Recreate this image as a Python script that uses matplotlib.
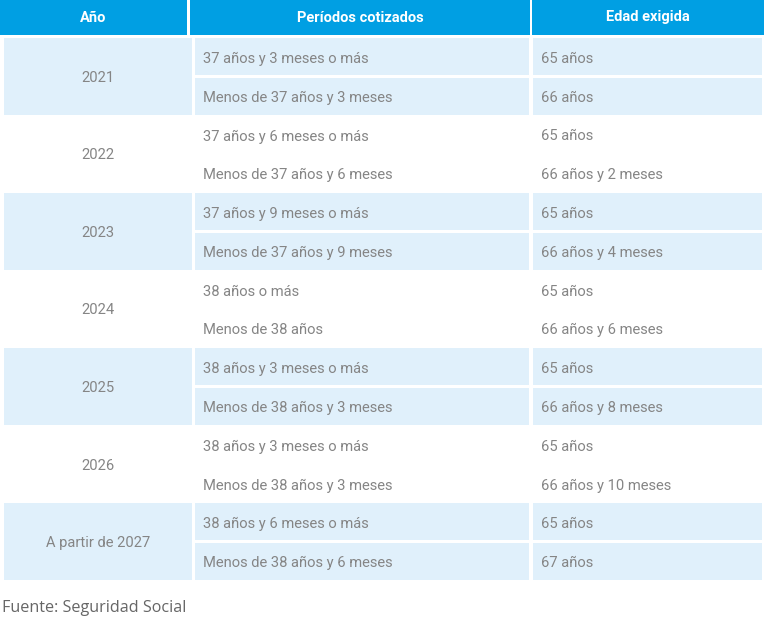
import matplotlib.pyplot as plt
from matplotlib.patches import Rectangle

# === Table data ===
headers = ["Año", "Períodos cotizados", "Edad exigida"]
years = ["2021", "2022", "2023", "2024", "2025", "2026", "A partir de 2027"]
periods = [
    "37 años y 3 meses o más", "Menos de 37 años y 3 meses",
    "37 años y 6 meses o más", "Menos de 37 años y 6 meses",
    "37 años y 9 meses o más", "Menos de 37 años y 9 meses",
    "38 años o más", "Menos de 38 años",
    "38 años y 3 meses o más", "Menos de 38 años y 3 meses",
    "38 años y 3 meses o más", "Menos de 38 años y 3 meses",
    "38 años y 6 meses o más", "Menos de 38 años y 6 meses",
]
ages = [
    "65 años", "66 años",
    "65 años", "66 años y 2 meses",
    "65 años", "66 años y 4 meses",
    "65 años", "66 años y 6 meses",
    "65 años", "66 años y 8 meses",
    "65 años", "66 años y 10 meses",
    "65 años", "67 años",
]
source = "Fuente: Seguridad Social"

# === Layout (pixel coords) ===
W, H = 768, 643
HEADER_COLS = [(0, 187), (190, 530), (532, 764)]
BODY_COLS = [(4, 192), (195, 529), (533, 762)]
TOP, BOTTOM = 38, 581
BLUE = "#009FE3"
SHADE = "#E0F0FB"
TEXT = "#858585"
FONT = ["Roboto", "DejaVu Sans"]

fig = plt.figure(figsize=(W / 100, H / 100), dpi=100)
ax = fig.add_axes([0, 0, 1, 1])
ax.set_xlim(0, W)
ax.set_ylim(H, 0)
ax.axis("off")

# header
for (x0, x1), label in zip(HEADER_COLS, headers):
    ax.add_patch(Rectangle((x0, 0), x1 - x0, 35, color=BLUE, lw=0))
    ax.text((x0 + x1) / 2, 17.5, label, color="white", fontsize=10.5,
            fontweight="bold", ha="center", va="center", family=FONT)

group_h = (BOTTOM - TOP) / len(years)
row_h = group_h / 2

for g, year in enumerate(years):
    gy = TOP + g * group_h
    shaded = g % 2 == 0
    if shaded:
        x0, x1 = BODY_COLS[0]
        ax.add_patch(Rectangle((x0, gy), x1 - x0, group_h - 1, color=SHADE, lw=0))
    ax.text(sum(BODY_COLS[0]) / 2, gy + group_h / 2 + 1, year, color=TEXT,
            fontsize=10.6, ha="center", va="center", family=FONT)
    for r in range(2):
        i = g * 2 + r
        ry = gy + r * row_h
        if shaded:
            for x0, x1 in BODY_COLS[1:]:
                ax.add_patch(Rectangle((x0, ry + (1 if r else 0)), x1 - x0,
                                       row_h - 2, color=SHADE, lw=0))
        ax.text(BODY_COLS[1][0] + 8, ry + row_h / 2 + 1.5, periods[i],
                color=TEXT, fontsize=10.6, ha="left", va="center", family=FONT)
        ax.text(BODY_COLS[2][0] + 8, ry + row_h / 2 + 1.5, ages[i],
                color=TEXT, fontsize=10.6, ha="left", va="center", family=FONT)

ax.text(2, 608, source, color="#666666", fontsize=11.6, ha="left",
        va="center", family=["Open Sans", "DejaVu Sans"])

fig.savefig("out.png", dpi=100)
